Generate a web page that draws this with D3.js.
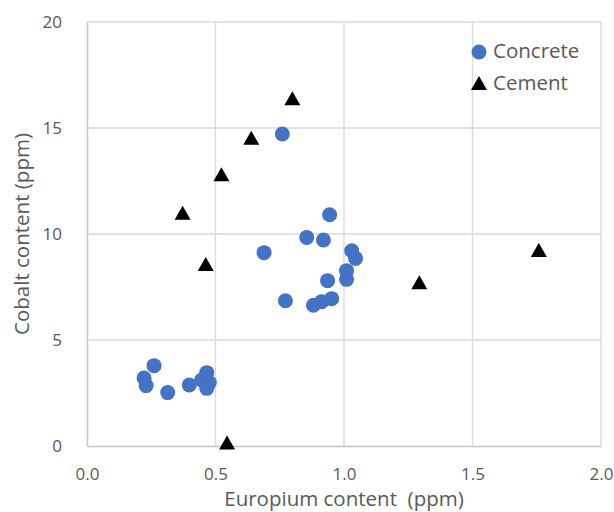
<!DOCTYPE html>
<html><head><meta charset="utf-8">
<script src="https://cdn.jsdelivr.net/npm/d3@7"></script>
<style>body{margin:0;background:#fff}svg{display:block}text{font-family:"Open Sans",sans-serif;fill:#595959;white-space:pre}</style>
</head><body><svg id="c" width="614" height="512"></svg>
<script>
const concreteX = [0.760,0.944,0.855,0.920,0.689,1.030,1.045,1.010,1.010,0.936,0.772,0.881,0.913,0.952,0.261,0.222,0.230,0.314,0.398,0.466,0.446,0.476,0.466];
const concreteY = [14.72,10.91,9.84,9.72,9.12,9.21,8.85,8.27,7.86,7.80,6.85,6.64,6.81,6.95,3.79,3.21,2.85,2.52,2.88,3.46,3.11,2.99,2.72];
const cementX = [0.799,0.639,0.523,0.372,0.462,0.545,1.293,1.758];
const cementY = [16.4,14.54,12.82,11.0,8.58,0.16,7.72,9.25];
const xTicks = [0,0.5,1.0,1.5,2.0];
const yTicks = [0,5,10,15,20];
const seriesNames = ["Concrete","Cement"];

const svg = d3.select("#c");
const L=87,R=601,T=22,B=446;
const x = d3.scaleLinear().domain([0,2]).range([L,R]);
const y = d3.scaleLinear().domain([0,20]).range([B,T]);

// gridlines
svg.append("g").selectAll("line").data(yTicks.slice(1)).join("line")
  .attr("x1",L).attr("x2",R).attr("y1",d=>y(d)).attr("y2",d=>y(d))
  .attr("stroke","#d9d9d9").attr("stroke-width",1.3);
svg.append("g").selectAll("line").data(xTicks.slice(1)).join("line")
  .attr("y1",T).attr("y2",B).attr("x1",d=>x(d)).attr("x2",d=>x(d))
  .attr("stroke","#d9d9d9").attr("stroke-width",1.3);

// axes
const xa = svg.append("g").attr("transform",`translate(0,${B})`)
  .call(d3.axisBottom(x).tickValues(xTicks).tickFormat(d3.format(".1f")).tickSize(0).tickPadding(22));
const ya = svg.append("g").attr("transform",`translate(${L},0)`)
  .call(d3.axisLeft(y).tickValues(yTicks).tickSize(0).tickPadding(25));
[xa,ya].forEach(a=>{
  a.select(".domain").attr("stroke","#c4c4c4").attr("stroke-width",1.5);
  a.selectAll("text").style("font-size","17px").attr("fill","#595959");
});

// points
svg.append("g").selectAll("circle").data(concreteX.map((v,i)=>[v,concreteY[i]])).join("circle")
  .attr("cx",d=>x(d[0])).attr("cy",d=>y(d[1])).attr("r",7.5).attr("fill","#4472C4");
const tri = "M0,-7L8,7L-8,7Z";
svg.append("g").selectAll("path").data(cementX.map((v,i)=>[v,cementY[i]])).join("path")
  .attr("d",tri).attr("transform",d=>`translate(${x(d[0])},${y(d[1])})`).attr("fill","#000");

// axis titles
svg.append("text").attr("x",(L+R)/2).attr("y",505.5).attr("text-anchor","middle")
  .style("font-size","20.5px").text("Europium content  (ppm)");
svg.append("text").attr("transform",`translate(28.5,${(T+B)/2}) rotate(-90)`).attr("text-anchor","middle")
  .style("font-size","20.5px").text("Cobalt content (ppm)");

// legend
const lg = svg.append("g");
lg.append("circle").attr("cx",479).attr("cy",52).attr("r",7.5).attr("fill","#4472C4");
lg.append("path").attr("d",tri).attr("transform","translate(479,83)").attr("fill","#000");
lg.selectAll("text").data(seriesNames).join("text")
  .attr("x",493).attr("y",(d,i)=>58+i*32)
  .style("font-size","20.5px").text(d=>d);
</script></body></html>
